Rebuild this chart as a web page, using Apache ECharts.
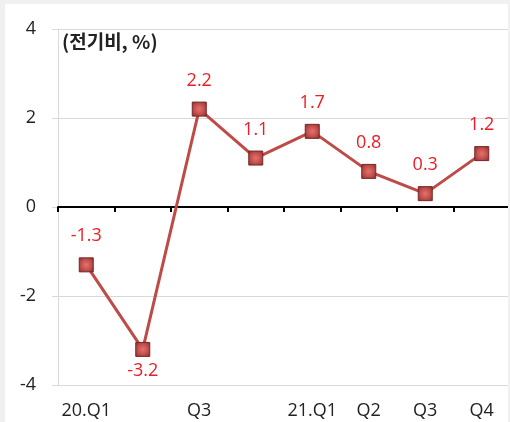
<!DOCTYPE html>
<html>
<head>
<meta charset="utf-8">
<script src="https://cdn.jsdelivr.net/npm/echarts@6/dist/echarts.min.js"></script>
<style>
  html, body { margin: 0; padding: 0; background: #ffffff; }
  #chart { width: 510px; height: 422px; }
</style>
</head>
<body>
<div id="chart"></div>
<script>
// Quarter-on-quarter growth rate (%)
const quarters = ['20.Q1', '', 'Q3', '', '21.Q1', 'Q2', 'Q3', 'Q4'];
const growth = [-1.3, -3.2, 2.2, 1.1, 1.7, 0.8, 0.3, 1.2];
const yTicks = { min: -4, max: 4, interval: 2 };
const unitLabel = '(전기비, %)';

const lineColor = '#bf4b48';
const labelColor = '#ee1c25';
const numFont = '"Open Sans", "Noto Sans", sans-serif';

const chart = echarts.init(document.getElementById('chart'), null, { renderer: 'canvas' });

const points = growth.map(function (v) {
  return {
    value: v,
    label: { position: v < -3 ? 'bottom' : 'top', distance: v < -3 ? 5 : 12 }
  };
});

chart.setOption({
  backgroundColor: '#ffffff',
  animation: false,
  grid: { left: 58, right: -5, top: 29, bottom: 37, containLabel: false },
  xAxis: [
    {
      type: 'category',
      data: quarters,
      position: 'bottom',
      boundaryGap: true,
      axisLine: { show: false, onZero: false },
      axisTick: { show: false },
      axisLabel: {
        interval: 0, margin: 17, color: '#222222',
        fontFamily: numFont, fontSize: 18
      },
      splitLine: { show: false }
    },
    {
      type: 'category',
      data: quarters,
      position: 'top',
      boundaryGap: true,
      axisLine: { show: true, onZero: true, lineStyle: { color: '#000000', width: 2 } },
      axisTick: { show: true, inside: true, length: 5, interval: 0, lineStyle: { color: '#000000', width: 2 } },
      axisLabel: { show: false },
      splitLine: { show: false }
    }
  ],
  yAxis: {
    type: 'value',
    min: yTicks.min,
    max: yTicks.max,
    interval: yTicks.interval,
    axisLine: { show: true, lineStyle: { color: '#d9d9d9', width: 1 } },
    axisTick: { show: true, length: 6, lineStyle: { color: '#d9d9d9' } },
    axisLabel: { margin: 22, color: '#222222', fontFamily: numFont, fontSize: 18 },
    splitLine: { show: true, lineStyle: { color: '#d9d9d9', width: 1 } }
  },
  graphic: [
    {
      type: 'text', left: 62, top: 32, z: 10,
      style: {
        text: unitLabel, fill: '#222222',
        font: 'bold 19px "Noto Sans CJK KR", sans-serif'
      }
    },
    // light frame around the panel
    { type: 'rect', left: 0, top: 0, z: 20, shape: { width: 510, height: 4 }, style: { fill: '#f0f0f0' } },
    { type: 'rect', left: 0, top: 0, z: 20, shape: { width: 5, height: 422 }, style: { fill: '#f0f0f0' } },
    { type: 'rect', left: 508, top: 0, z: 20, shape: { width: 2, height: 422 }, style: { fill: '#f0f0f0' } }
  ],
  series: [
    {
      type: 'line',
      xAxisIndex: 0,
      data: points,
      lineStyle: { color: lineColor, width: 3 },
      symbol: 'rect',
      symbolSize: 14,
      itemStyle: {
        color: {
          type: 'radial', x: 0.5, y: 0.5, r: 0.7,
          colorStops: [
            { offset: 0, color: '#e8706c' },
            { offset: 0.5, color: '#c0504d' },
            { offset: 1, color: '#7e2a28' }
          ]
        },
        borderColor: '#7a2624',
        borderWidth: 1
      },
      label: {
        show: true,
        color: labelColor,
        fontFamily: numFont,
        fontSize: 18,
        formatter: function (p) { return p.value.toFixed(1); }
      },
      z: 5
    }
  ]
});
</script>
</body>
</html>
